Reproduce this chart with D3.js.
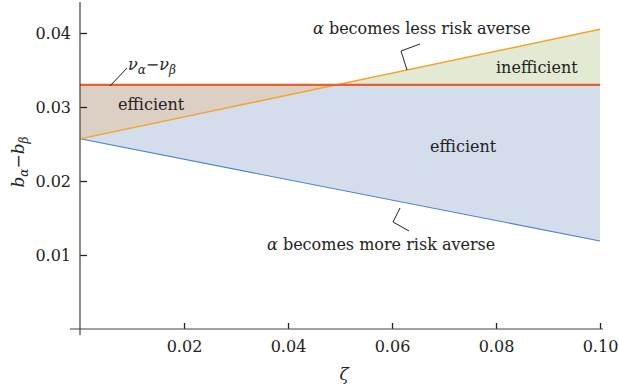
<!DOCTYPE html>
<html>
<head>
<meta charset="utf-8">
<script src="https://cdn.jsdelivr.net/npm/d3@7"></script>
<style>
  body { margin: 0; background: #fff; }
  text { font-family: "DejaVu Serif", serif; fill: #222; }
</style>
</head>
<body>
<div id="chart"></div>
<script>
// data
const zeta = [0, 0.1];
const nuDiff = [0.033, 0.033];          // v_alpha - v_beta
const lessAverse = [0.0257, 0.0405];    // alpha becomes less risk averse
const moreAverse = [0.0257, 0.0119];    // alpha becomes more risk averse
const xTicks = [0.02, 0.04, 0.06, 0.08, 0.10];
const yTicks = [0.01, 0.02, 0.03, 0.04];

const width = 619, height = 392;
const fontSize = 16;
const chart = d3.select("#chart");

const svg = chart.append("svg")
  .attr("width", width)
  .attr("height", height);

const x = d3.scaleLinear().domain([0, 0.1]).range([80, 600]);
const y = d3.scaleLinear().domain([0, 0.0444]).range([329, 0.44]);

const rows = zeta.map((z, i) => ({ z: z, red: nuDiff[i], less: lessAverse[i], more: moreAverse[i] }));

// clip regions above / below the v line
const defs = svg.append("defs");
defs.append("clipPath").attr("id", "above")
  .append("rect").attr("x", 0).attr("y", 0).attr("width", width).attr("height", y(nuDiff[0]));
defs.append("clipPath").attr("id", "below")
  .append("rect").attr("x", 0).attr("y", y(nuDiff[0])).attr("width", width).attr("height", height);

// blue area
svg.append("path")
  .datum(rows)
  .attr("fill", "#d4ddeb")
  .attr("d", d3.area().x(d => x(d.z)).y0(d => y(d.more)).y1(d => y(d.red)));

const bow = d3.area().x(d => x(d.z)).y0(d => y(d.less)).y1(d => y(d.red));

svg.append("path")
  .datum(rows)
  .attr("fill", "#dccfc3")
  .attr("clip-path", "url(#below)")
  .attr("d", bow);

svg.append("path")
  .datum(rows)
  .attr("fill", "#e2ead4")
  .attr("clip-path", "url(#above)")
  .attr("d", bow);

// lines
const line = key => d3.line().x(d => x(d.z)).y(d => y(d[key]));

svg.append("path").datum(rows)
  .attr("fill", "none").attr("stroke", "#4f83c3").attr("stroke-width", 1.1)
  .attr("d", line("more"));

svg.append("path").datum(rows)
  .attr("fill", "none").attr("stroke", "#f5a22c").attr("stroke-width", 1.4)
  .attr("d", line("less"));

svg.append("path").datum(rows)
  .attr("fill", "none").attr("stroke", "#e9602f").attr("stroke-width", 2.2)
  .attr("d", line("red"));

// axes
const gy = svg.append("g").attr("transform", "translate(80,0)");
gy.call(d3.axisLeft(y).tickValues(d3.range(0.002, 0.0445, 0.002)).tickSize(-4).tickFormat(""));
gy.call(d3.axisLeft(y).tickValues(yTicks).tickSize(-7).tickPadding(9).tickFormat(d3.format(".2f")));

const gx = svg.append("g").attr("transform", "translate(0,329)");
gx.call(d3.axisBottom(x).tickValues(d3.range(0.005, 0.1001, 0.005)).tickSize(-4).tickFormat(""));
gx.call(d3.axisBottom(x).tickValues(xTicks).tickSize(-6).tickPadding(12).tickFormat(d3.format(".2f")));

svg.selectAll(".domain").remove();
svg.selectAll(".tick line").attr("stroke", "#222").attr("stroke-width", 1.3);
svg.selectAll(".tick text").attr("font-size", fontSize).attr("font-family", "DejaVu Serif").attr("fill", "#222");

svg.append("line").attr("x1", 80).attr("x2", 80).attr("y1", 2).attr("y2", 335)
  .attr("stroke", "#444").attr("stroke-width", 1.2);
svg.append("line").attr("x1", 70).attr("x2", 603).attr("y1", 329).attr("y2", 329)
  .attr("stroke", "#444").attr("stroke-width", 1.2);

// axis titles
svg.append("text")
  .attr("x", 344).attr("y", 380)
  .attr("text-anchor", "middle")
  .attr("font-size", 17).attr("font-style", "italic")
  .text("ζ");

const yl = svg.append("text")
  .attr("transform", "translate(24,162) rotate(-90)")
  .attr("text-anchor", "middle")
  .attr("font-size", 17);
yl.append("tspan").attr("font-style", "italic").text("b");
yl.append("tspan").attr("font-size", 12).attr("dy", 4).attr("font-style", "italic").text("α");
yl.append("tspan").attr("dy", -4).text("−");
yl.append("tspan").attr("font-style", "italic").text("b");
yl.append("tspan").attr("font-size", 12).attr("dy", 4).attr("font-style", "italic").text("β");

// annotations
const ann = (tx, ty, str) => svg.append("text").attr("x", tx).attr("y", ty).attr("font-size", fontSize).text(str);

ann(118, 110, "efficient");
ann(430, 152, "efficient");
ann(496, 73, "inefficient");

const less = svg.append("text").attr("x", 313).attr("y", 34).attr("font-size", fontSize);
less.append("tspan").attr("font-style", "italic").text("α");
less.append("tspan").text(" becomes less risk averse");

const more = svg.append("text").attr("x", 267).attr("y", 250).attr("font-size", fontSize);
more.append("tspan").attr("font-style", "italic").text("α");
more.append("tspan").text(" becomes more risk averse");

const nu = svg.append("text").attr("x", 128).attr("y", 70).attr("font-size", fontSize);
nu.append("tspan").attr("font-style", "italic").text("ν");
nu.append("tspan").attr("font-size", 12).attr("dy", 4).attr("font-style", "italic").text("α");
nu.append("tspan").attr("dy", -4).text("−");
nu.append("tspan").attr("font-style", "italic").text("ν");
nu.append("tspan").attr("font-size", 12).attr("dy", 4).attr("font-style", "italic").text("β");

// leader lines
const leader = d3.line();
svg.append("path").attr("d", leader([[110, 86], [127, 68]]))
  .attr("fill", "none").attr("stroke", "#222").attr("stroke-width", 1);
svg.append("path").attr("d", leader([[407, 70], [401, 51], [420, 44]]))
  .attr("fill", "none").attr("stroke", "#222").attr("stroke-width", 1);
svg.append("path").attr("d", leader([[400, 208], [393, 222], [409, 231]]))
  .attr("fill", "none").attr("stroke", "#222").attr("stroke-width", 1);
</script>
</body>
</html>
